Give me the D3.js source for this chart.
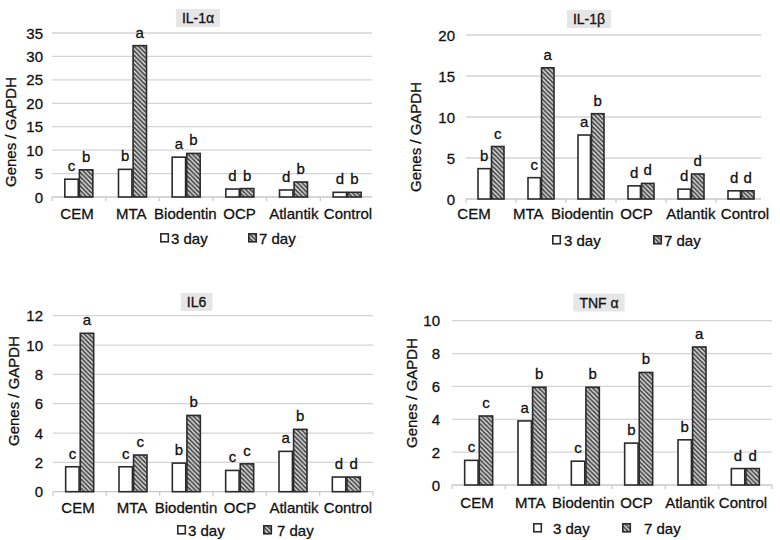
<!DOCTYPE html>
<html>
<head>
<meta charset="utf-8">
<script src="https://cdn.jsdelivr.net/npm/d3@7"></script>
<style>
  html, body { margin: 0; padding: 0; background: #fff; }
  svg { display: block; font-family: "Liberation Sans", Arial, sans-serif; }
  svg text { stroke: #111; stroke-width: 0.3px; }
</style>
</head>
<body>
<svg id="chart" width="780" height="540"></svg>
<script>
// ---------------- data ----------------
const categories = ["CEM", "MTA", "Biodentin", "OCP", "Atlantik", "Control"];
const seriesNames = ["3 day", "7 day"];
const titles = ["IL-1α", "IL-1β", "IL6", "TNF α"];
const yAxisTitle = "Genes / GAPDH";

const il1a3 = [3.8, 5.9, 8.5, 1.7, 1.5, 1.0];
const il1a7 = [5.8, 32.3, 9.3, 1.8, 3.2, 1.0];
const il1aSig3 = ["c", "b", "a", "d", "d", "d"];
const il1aSig7 = ["b", "a", "b", "b", "b", "b"];
const il1aTicks = [0, 5, 10, 15, 20, 25, 30, 35];

const il1b3 = [3.7, 2.6, 7.8, 1.6, 1.2, 1.0];
const il1b7 = [6.4, 16.0, 10.4, 1.9, 3.05, 1.0];
const il1bSig3 = ["b", "c", "a", "d", "d", "d"];
const il1bSig7 = ["c", "a", "b", "d", "d", "d"];
const il1bTicks = [0, 5, 10, 15, 20];

const il6Day3 = [1.7, 1.7, 1.95, 1.45, 2.75, 1.0];
const il6Day7 = [10.8, 2.5, 5.2, 1.9, 4.25, 1.0];
const il6Sig3 = ["c", "c", "b", "c", "a", "d"];
const il6Sig7 = ["a", "c", "b", "c", "b", "d"];
const il6Ticks = [0, 2, 4, 6, 8, 10, 12];

const tnf3 = [1.5, 3.9, 1.45, 2.55, 2.75, 1.0];
const tnf7 = [4.2, 5.95, 5.95, 6.85, 8.4, 1.0];
const tnfSig3 = ["c", "a", "c", "b", "b", "d"];
const tnfSig7 = ["c", "b", "b", "b", "a", "d"];
const tnfTicks = [0, 2, 4, 6, 8, 10];

const panelValues = [[il1a3, il1a7], [il1b3, il1b7], [il6Day3, il6Day7], [tnf3, tnf7]];
const panelSigs = [[il1aSig3, il1aSig7], [il1bSig3, il1bSig7], [il6Sig3, il6Sig7], [tnfSig3, tnfSig7]];
const panelTicks = [il1aTicks, il1bTicks, il6Ticks, tnfTicks];

// ---------------- layout ----------------
const layouts = [
  { x0: 52, x1: 374, gridEnd: 372, yZero: 197, yTop: 33, half: 14, tickX: 43,
    labelRange: [77, 348], labelY: 213, titleX: 198, titleY: 18,
    yTitleX: 10, yTitleY: 132, legY: 238, legX: [160, 248], legGap: [2, 2] },
  { x0: 466, x1: 766, gridEnd: 761, yZero: 199, yTop: 35, half: 13, tickX: 455,
    labelRange: [474, 745], labelY: 213, titleX: 589, titleY: 19,
    yTitleX: 415, yTitleY: 137, legY: 240, legX: [552, 653], legGap: [3, 2] },
  { x0: 53, x1: 373, gridEnd: 373, yZero: 491.7, yTop: 315.7, half: 14, tickX: 43,
    labelRange: [78, 348], labelY: 507, titleX: 196.5, titleY: 302,
    yTitleX: 13, yTitleY: 391, legY: 530, legX: [177, 263], legGap: [2, 5] },
  { x0: 452, x1: 772, gridEnd: 772, yZero: 485, yTop: 320.7, half: 14, tickX: 440,
    labelRange: [477, 743], labelY: 502, titleX: 599, titleY: 302.5,
    yTitleX: 411, yTitleY: 393, legY: 528, legX: [533, 622], legGap: [11, 13] }
];

const svg = d3.select("#chart");
const defs = svg.append("defs");
const pat = defs.append("pattern")
  .attr("id", "hatch").attr("patternUnits", "userSpaceOnUse")
  .attr("width", 4.5).attr("height", 4.5);
pat.append("rect").attr("width", 4.5).attr("height", 4.5).attr("fill", "#4a4a4a");
pat.append("path")
  .attr("d", "M-1,-1 L5.5,5.5 M-1,3.5 L1,5.5 M3.5,-1 L5.5,1")
  .attr("stroke", "#e6e6e6").attr("stroke-width", 1.4);

const textColor = "#111";
const gridColor = "#d4d4d4";
const barStroke = "#2b2b2b";

layouts.forEach((L, p) => {
  const g = svg.append("g");
  const ticks = panelTicks[p];
  const yMax = ticks[ticks.length - 1];
  const y = d3.scaleLinear().domain([0, yMax]).range([L.yZero, L.yTop]);
  const x = d3.scaleBand().domain(categories).range([L.x0, L.x1]);
  const lab = d3.scalePoint().domain(categories).range(L.labelRange);

  // gridlines
  g.selectAll("line.grid").data(ticks.filter(t => t > 0)).join("line")
    .attr("x1", L.x0).attr("x2", L.gridEnd)
    .attr("y1", d => y(d)).attr("y2", d => y(d))
    .attr("stroke", gridColor).attr("stroke-width", 1.3);

  // baseline + category tick marks
  g.append("line").attr("x1", L.x0).attr("x2", L.gridEnd)
    .attr("y1", y(0)).attr("y2", y(0))
    .attr("stroke", "#c8c8c8").attr("stroke-width", 1.3);
  const bounds = categories.map(c => x(c)).concat([L.x0 + x.step() * categories.length]);
  g.selectAll("line.ctick").data(bounds.filter(b => b <= L.gridEnd + 1)).join("line")
    .attr("x1", d => d).attr("x2", d => d)
    .attr("y1", y(0)).attr("y2", y(0) + 4)
    .attr("stroke", "#c8c8c8").attr("stroke-width", 1.2);

  // y tick labels
  g.selectAll("text.ytick").data(ticks).join("text")
    .attr("x", L.tickX).attr("y", d => y(d))
    .attr("text-anchor", "end").attr("dominant-baseline", "central")
    .attr("font-size", 15).attr("fill", textColor)
    .text(d => d);

  // y axis title
  g.append("text")
    .attr("transform", `translate(${L.yTitleX},${L.yTitleY}) rotate(-90)`)
    .attr("text-anchor", "middle").attr("dominant-baseline", "central")
    .attr("font-size", 15).attr("fill", textColor)
    .text(yAxisTitle);

  // category labels
  g.selectAll("text.cat").data(categories).join("text")
    .attr("x", d => lab(d)).attr("y", L.labelY)
    .attr("text-anchor", "middle").attr("dominant-baseline", "central")
    .attr("font-size", 15).attr("fill", textColor)
    .text(d => d);

  // bars
  seriesNames.forEach((s, si) => {
    const vals = panelValues[p][si];
    const sigs = panelSigs[p][si];
    const sub = c => d3.scaleBand().domain(seriesNames)
      .range([x(c) + x.bandwidth() / 2 - L.half, x(c) + x.bandwidth() / 2 + L.half])
      .paddingInner(0.08);
    const data = categories.map((c, i) => ({ c, v: vals[i], sig: sigs[i] }));
    g.selectAll(`rect.s${si}`).data(data).join("rect")
      .attr("x", d => sub(d.c)(s))
      .attr("width", d => sub(d.c).bandwidth())
      .attr("y", d => y(d.v))
      .attr("height", d => y(0) - y(d.v))
      .attr("fill", si === 0 ? "#ffffff" : "url(#hatch)")
      .attr("stroke", barStroke).attr("stroke-width", 1.6);
    g.selectAll(`text.sig${si}`).data(data).join("text")
      .attr("x", d => sub(d.c)(s) + sub(d.c).bandwidth() / 2)
      .attr("y", d => y(d.v) - 8)
      .attr("text-anchor", "middle")
      .attr("font-size", 15).attr("fill", textColor)
      .text(d => d.sig);
  });

  // title with gray box
  const tt = g.append("text")
    .attr("x", L.titleX).attr("y", L.titleY)
    .attr("text-anchor", "middle").attr("dominant-baseline", "central")
    .attr("font-size", 14).attr("fill", textColor)
    .text(titles[p]);
  const bb = tt.node().getBBox();
  g.insert("rect", () => tt.node())
    .attr("x", bb.x - 6).attr("y", L.titleY - 9)
    .attr("width", bb.width + 12).attr("height", 18)
    .attr("fill", "#e6e6e6");

  // legend
  seriesNames.forEach((s, si) => {
    const lx = L.legX[si];
    g.append("rect")
      .attr("x", lx + 0.8).attr("y", L.legY - 4.2)
      .attr("width", 7.5).attr("height", 8)
      .attr("fill", si === 0 ? "#ffffff" : "url(#hatch)")
      .attr("stroke", barStroke).attr("stroke-width", 1.6);
    g.append("text")
      .attr("x", lx + 9 + L.legGap[si]).attr("y", L.legY)
      .attr("dominant-baseline", "central")
      .attr("font-size", 15).attr("fill", textColor)
      .text(s);
  });
});
</script>
</body>
</html>
